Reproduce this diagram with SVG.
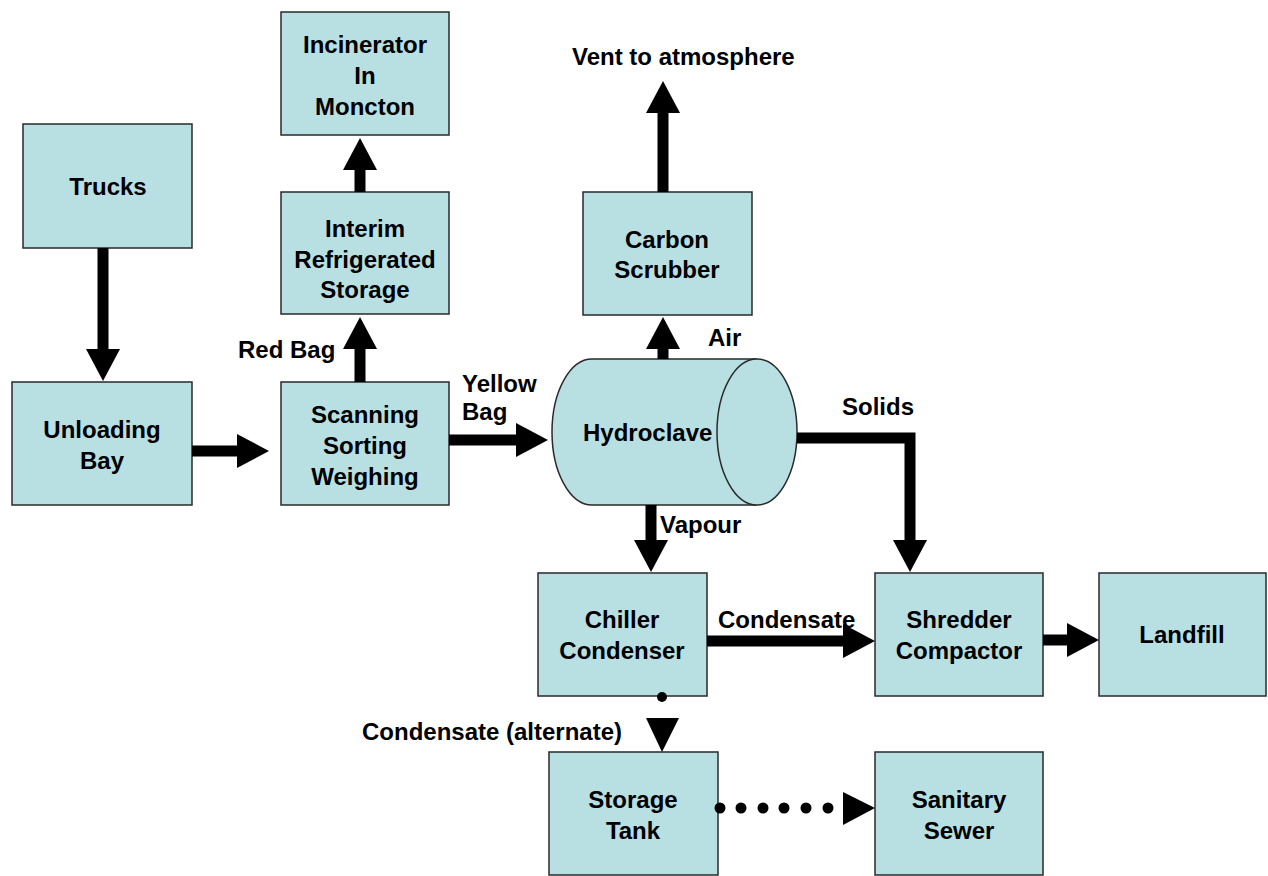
<svg xmlns="http://www.w3.org/2000/svg" width="1268" height="876" viewBox="0 0 1268 876">
<style>
.box{fill:#b8dfe2;stroke:#2a2a2a;stroke-width:1.5}
.t{font-family:"Liberation Sans",Arial,sans-serif;font-weight:bold;font-size:24px;fill:#000;text-anchor:middle}
.l{font-family:"Liberation Sans",Arial,sans-serif;font-weight:bold;font-size:24px;fill:#000}
.c{fill:none;stroke:#000;stroke-width:11;marker-end:url(#ah)}
.h{fill:#000}
</style>
<defs>
<marker id="ah" markerUnits="userSpaceOnUse" markerWidth="33" markerHeight="34" refX="0" refY="17" orient="auto" overflow="visible">
<path d="M0,0 L32,17 L0,34 z" fill="#000"/>
</marker>
</defs>
<rect width="1268" height="876" fill="#fff"/>
<g id="trucks"><rect class="box" x="23" y="124" width="169" height="124"/><text class="t" x="108" y="195">Trucks</text></g>
<g id="unloading"><rect class="box" x="12" y="382" width="180" height="123"/><text class="t" x="102" y="438">Unloading</text><text class="t" x="102" y="469">Bay</text></g>
<g id="incinerator"><rect class="box" x="281" y="12" width="168" height="123"/><text class="t" x="365" y="53">Incinerator</text><text class="t" x="365" y="84">In</text><text class="t" x="365" y="115">Moncton</text></g>
<g id="interim"><rect class="box" x="281" y="192" width="168" height="122"/><text class="t" x="365" y="237">Interim</text><text class="t" x="365" y="268">Refrigerated</text><text class="t" x="365" y="298">Storage</text></g>
<g id="scanning"><rect class="box" x="281" y="382" width="168" height="123"/><text class="t" x="365" y="423">Scanning</text><text class="t" x="365" y="454">Sorting</text><text class="t" x="365" y="485">Weighing</text></g>
<g id="scrubber"><rect class="box" x="583" y="192" width="169" height="123"/><text class="t" x="667" y="248">Carbon</text><text class="t" x="667" y="278">Scrubber</text></g>
<g id="hydroclave">
<path class="box" d="M592,359 L757,359 L757,505 L592,505 A40,73 0 0 1 592,359 Z" style="stroke:none"/>
<path d="M757,359 L592,359 A40,73 0 0 0 592,505 L757,505" fill="none" stroke="#2a2a2a" stroke-width="1.5"/>
<ellipse class="box" cx="757" cy="432" rx="40" ry="73"/>
<text class="l" x="583" y="441">Hydroclave</text>
</g>
<g id="chiller"><rect class="box" x="538" y="573" width="169" height="123"/><text class="t" x="622" y="628">Chiller</text><text class="t" x="622" y="659">Condenser</text></g>
<g id="shredder"><rect class="box" x="875" y="573" width="168" height="123"/><text class="t" x="959" y="628">Shredder</text><text class="t" x="959" y="659">Compactor</text></g>
<g id="landfill"><rect class="box" x="1099" y="573" width="167" height="123"/><text class="t" x="1182" y="643">Landfill</text></g>
<g id="storage"><rect class="box" x="549" y="752" width="169" height="123"/><text class="t" x="633" y="808">Storage</text><text class="t" x="633" y="839">Tank</text></g>
<g id="sewer"><rect class="box" x="875" y="752" width="168" height="123"/><text class="t" x="959" y="808">Sanitary</text><text class="t" x="959" y="839">Sewer</text></g>
<g id="connectors">
<path class="c" d="M103,248 V349"/>
<path class="c" d="M192,451 H237"/>
<path class="c" d="M360,382 V349"/>
<path class="c" d="M360,192 V170"/>
<path class="c" d="M449,440 H516"/>
<path class="c" d="M663,359 V349"/>
<path class="c" d="M663,192 V113"/>
<path class="c" d="M797,438 H910 V540"/>
<path class="c" d="M651,505 V540"/>
<path class="c" d="M707,641 H843"/>
<path class="c" d="M1043,640 H1067"/>
<circle class="h" cx="662" cy="697" r="5"/>
<polygon class="h" points="646,718 679,718 662,752"/>
<circle class="h" cx="720" cy="808" r="5.5"/>
<circle class="h" cx="741" cy="808" r="5.5"/>
<circle class="h" cx="763" cy="808" r="5.5"/>
<circle class="h" cx="784" cy="808" r="5.5"/>
<circle class="h" cx="806" cy="808" r="5.5"/>
<circle class="h" cx="828" cy="808" r="5.5"/>
<polygon class="h" points="843,792 875,808 843,825"/>
</g>
<g id="labels">
<text class="l" x="572" y="65">Vent to atmosphere</text>
<text class="l" x="238" y="358">Red Bag</text>
<text class="l" x="462" y="392">Yellow</text>
<text class="l" x="462" y="420">Bag</text>
<text class="l" x="708" y="346">Air</text>
<text class="l" x="842" y="415">Solids</text>
<text class="l" x="660" y="533">Vapour</text>
<text class="l" x="718" y="628">Condensate</text>
<text class="l" x="362" y="740">Condensate (alternate)</text>
</g>
</svg>
